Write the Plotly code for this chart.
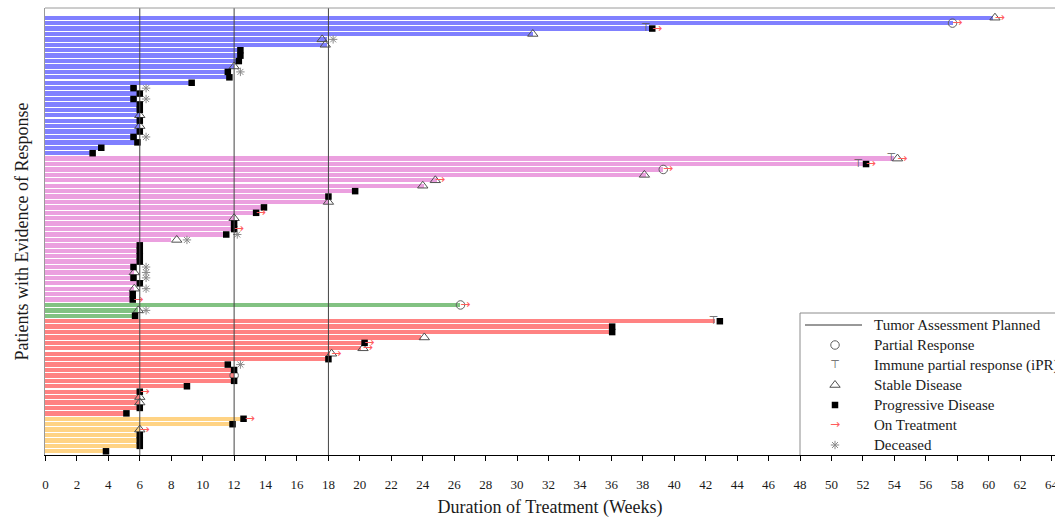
import plotly.graph_objects as go

# ---- Treatment duration (weeks), patients listed top to bottom within each cohort ----
blue_weeks = [60.3, 57.7, 38.5, 31.0, 17.9, 17.9, 12.5, 12.5, 12.3, 12.0, 11.8, 11.8, 9.4,
              5.8, 6.0, 5.8, 6.0, 6.0, 6.0, 6.0, 6.0, 6.0, 5.8, 5.9, 3.6, 3.0]
pink_weeks = [54.0, 52.0, 39.3, 38.2, 24.9, 24.1, 19.7, 18.0, 18.0, 13.9, 13.3, 12.0, 12.0, 12.0,
              11.5, 8.0, 6.0, 6.0, 6.0, 6.0, 5.6, 5.6, 5.6, 6.0, 5.6, 5.55, 5.55]
green_weeks = [26.4, 5.9, 5.7]
red_weeks = [42.6, 36.0, 36.0, 23.9, 20.3, 20.1, 18.1, 18.0, 11.6, 12.0, 12.0, 12.0, 9.0,
             6.0, 6.0, 6.0, 6.0, 5.15]
yellow_weeks = [12.6, 11.9, 6.0, 6.0, 6.0, 6.0, 3.85]

cohorts = [
    (blue_weeks, "#8080FF"),
    (pink_weeks, "#EBA0DF"),
    (green_weeks, "#82C282"),
    (red_weeks, "#FF8282"),
    (yellow_weeks, "#FFD384"),
]

# ---- Response events: (patient number counted from the top, week) ----
partial_response = [(2, 57.7), (29, 39.3), (54, 26.4), (67, 12.0)]
immune_pr = [(3, 38.2), (27, 53.8), (28, 51.7), (57, 42.5)]
stable_disease = [(1, 60.4), (4, 31.0), (5, 17.6), (6, 17.8), (10, 12.0), (19, 6.0), (21, 6.0),
                  (27, 54.2), (30, 38.1), (31, 24.8), (32, 24.0), (35, 18.0), (38, 12.0), (42, 8.35),
                  (48, 5.65), (51, 5.65), (55, 5.9), (60, 24.1), (62, 20.2), (63, 18.2), (71, 6.0),
                  (72, 6.0), (77, 6.0)]
progressive_disease = [(3, 38.6), (7, 12.4), (8, 12.4), (9, 12.3), (11, 11.6), (12, 11.7), (13, 9.3),
                       (14, 5.6), (15, 6.0), (16, 5.6), (17, 6.0), (18, 6.0), (20, 6.0), (22, 6.0),
                       (23, 5.6), (24, 5.85), (25, 3.55), (26, 3.0),
                       (28, 52.2), (33, 19.7), (34, 18.0), (36, 13.9), (37, 13.4), (39, 12.0), (40, 12.0),
                       (41, 11.5), (43, 6.0), (44, 6.0), (45, 6.0), (46, 6.0), (47, 5.6), (49, 5.6),
                       (50, 6.0), (52, 5.55), (53, 5.55),
                       (56, 5.7),
                       (57, 42.9), (58, 36.05), (59, 36.05), (61, 20.3), (64, 18.0), (65, 11.6), (66, 12.0),
                       (68, 12.0), (69, 9.0), (70, 6.0), (73, 6.0), (74, 5.15),
                       (75, 12.6), (76, 11.9), (78, 6.0), (79, 6.0), (80, 6.0), (81, 3.85)]
on_treatment = [(1, 60.7), (2, 58.0), (3, 38.9), (27, 54.5), (28, 52.5), (29, 39.6), (31, 25.1),
                (37, 13.7), (40, 12.3), (53, 5.9), (54, 26.7), (61, 20.6), (62, 20.5), (63, 18.5),
                (70, 6.3), (75, 13.0), (77, 6.3)]
deceased = [(5, 18.3), (11, 12.4), (14, 6.4), (16, 6.4), (23, 6.4), (41, 12.2), (42, 9.0), (47, 6.4),
            (48, 6.4), (49, 6.4), (51, 6.4), (55, 6.4), (65, 12.4)]

assessment_weeks = [6, 12, 18]

legend_labels = ["Tumor Assessment Planned", "Partial Response", "Immune partial response (iPR)",
                 "Stable Disease", "Progressive Disease", "On Treatment", "Deceased"]

SERIF = "Liberation Serif"
SYMFONT = "DejaVu Sans"

n_patients = sum(len(w) for w, _ in cohorts)


def row_y(pid):
    return n_patients + 1 - pid


fig = go.Figure()

# Swimmer bars
pid = 0
for weeks, color in cohorts:
    ids = list(range(pid + 1, pid + 1 + len(weeks)))
    pid += len(weeks)
    fig.add_trace(go.Bar(
        x=weeks, y=[row_y(i) for i in ids], orientation="h", base=0,
        width=0.8, marker=dict(color=color, line=dict(width=0)),
        showlegend=False, hoverinfo="skip",
    ))

# Styling of each event kind
marker_styles = {
    "pr": dict(symbol="circle-open", size=8.5, color="#606060", line=dict(width=1, color="#606060")),
    "sd": dict(symbol="triangle-up-open", size=9, color="#505050", line=dict(width=1, color="#505050")),
    "pd": dict(symbol="square", size=6.5, color="#000000", line=dict(width=0)),
    "dc": dict(symbol="asterisk-open", size=7, color="#8a8a8a", line=dict(width=1, color="#8a8a8a")),
}
text_styles = {
    "ipr": ("\u22a4", dict(family=SYMFONT, size=11, color="#5a5a5a")),
    "ot": ("\u2192", dict(family=SYMFONT, size=12, color="#FF5C5C")),
}


def add_markers(events, key, xaxis="x", yaxis="y", xs=None, ys=None):
    if xs is None:
        xs = [w for _, w in events]
        ys = [row_y(p) for p, _ in events]
    fig.add_trace(go.Scatter(x=xs, y=ys, mode="markers", marker=marker_styles[key],
                             xaxis=xaxis, yaxis=yaxis, showlegend=False, hoverinfo="skip",
                             cliponaxis=False))


def add_text(events, key, xaxis="x", yaxis="y", xs=None, ys=None):
    glyph, font = text_styles[key]
    if xs is None:
        xs = [w for _, w in events]
        ys = [row_y(p) for p, _ in events]
    fig.add_trace(go.Scatter(x=xs, y=ys, mode="text", text=[glyph] * len(xs),
                             textposition="middle center", textfont=font,
                             xaxis=xaxis, yaxis=yaxis, showlegend=False, hoverinfo="skip",
                             cliponaxis=False))


add_markers(stable_disease, "sd")
add_markers(partial_response, "pr")
add_text(immune_pr, "ipr")
add_markers(progressive_disease, "pd")
add_text(on_treatment, "ot")
add_markers(deceased, "dc")

# Planned tumour assessment lines
for wk in assessment_weeks:
    fig.add_shape(type="line", x0=wk, x1=wk, y0=0, y1=1, xref="x", yref="paper",
                  line=dict(color="#444444", width=1), layer="above")

# Top frame line
fig.add_shape(type="line", x0=0, x1=1, y0=1, y1=1, xref="paper", yref="paper",
              line=dict(color="#9a9a9a", width=1), layer="above")

# ---- Legend box (pixel coordinates on an overlay axis pair) ----
L_LEFT, L_TOP, L_BOTTOM = 800, 313, 456
sym_x, text_x, row0, step = 835, 872, 325, 20
rows_px = [row0 + i * step for i in range(len(legend_labels))]

fig.add_shape(type="rect", x0=L_LEFT, x1=1100, y0=L_TOP, y1=L_BOTTOM, xref="x2", yref="y2",
              line=dict(color="#8c8c8c", width=1), fillcolor="rgba(0,0,0,0)", layer="above")
fig.add_shape(type="line", x0=805, x1=862, y0=rows_px[0], y1=rows_px[0], xref="x2", yref="y2",
              line=dict(color="#333333", width=1), layer="above")

add_markers(None, "pr", "x2", "y2", [sym_x], [rows_px[1]])
add_text(None, "ipr", "x2", "y2", [sym_x], [rows_px[2]])
add_markers(None, "sd", "x2", "y2", [sym_x], [rows_px[3]])
add_markers(None, "pd", "x2", "y2", [sym_x], [rows_px[4]])
add_text(None, "ot", "x2", "y2", [sym_x], [rows_px[5]])
add_markers(None, "dc", "x2", "y2", [sym_x], [rows_px[6]])

for label, ypx in zip(legend_labels, rows_px):
    fig.add_annotation(x=text_x, y=ypx, xref="x2", yref="y2", text=label, showarrow=False,
                       xanchor="left", yanchor="middle", font=dict(family=SERIF, size=15, color="#1a1a1a"))

fig.update_layout(
    width=1055, height=518,
    margin=dict(l=45, r=0, t=8, b=63, autoexpand=False),
    paper_bgcolor="white", plot_bgcolor="white",
    barmode="overlay", bargap=0,
    showlegend=False,
    font=dict(family=SERIF, color="#1a1a1a"),
    xaxis=dict(
        range=[-0.03, 64.22], tickmode="linear", tick0=0, dtick=2,
        ticks="outside", ticklen=5, tickcolor="#000000", tickwidth=1,
        showline=True, linecolor="#000000", linewidth=1,
        showgrid=False, zeroline=False, automargin=False,
        tickfont=dict(family=SERIF, size=13, color="#1a1a1a"),
        ticklabelstandoff=12, ticklabeloverflow="allow",
        title=dict(text="Duration of Treatment (Weeks)", font=dict(family=SERIF, size=18), standoff=14),
    ),
    yaxis=dict(
        range=[0.317, 82.79], showticklabels=False, ticks="",
        showline=True, linecolor="#9a9a9a", linewidth=1,
        showgrid=False, zeroline=False, automargin=False,
        title=dict(text="Patients with Evidence of Response", font=dict(family=SERIF, size=18), standoff=10),
    ),
    xaxis2=dict(overlaying="x", anchor="y2", range=[45, 1055], visible=False),
    yaxis2=dict(overlaying="y", anchor="x2", range=[455, 8], visible=False),
)

fig.write_html("out.html")
